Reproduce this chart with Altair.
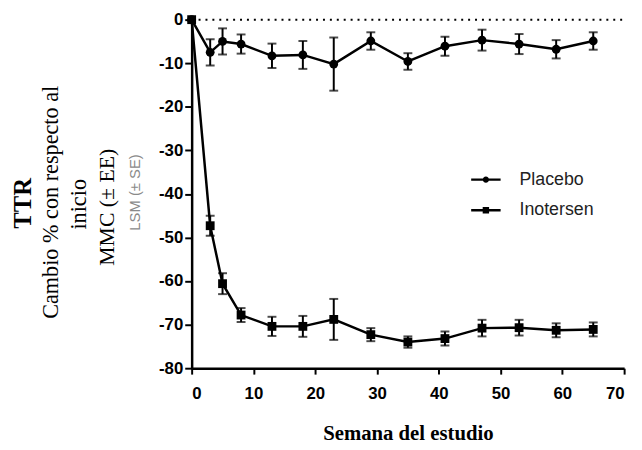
import altair as alt
import pandas as pd

weeks = [0, 3, 5, 8, 13, 18, 23, 29, 35, 41, 47, 53, 59, 65]
placebo_mean = [0, -7.5, -5.0, -5.6, -8.3, -8.1, -10.2, -4.9, -9.6, -6.1, -4.7, -5.6, -6.8, -4.9]
placebo_se = [0, 3.0, 3.0, 2.2, 2.8, 3.2, 6.1, 2.0, 1.9, 2.2, 2.4, 2.3, 2.1, 2.0]
ino_mean = [0, -47.3, -60.6, -67.8, -70.4, -70.4, -68.8, -72.3, -74.0, -73.2, -70.8, -70.7, -71.3, -71.1]
ino_se = [0, 2.3, 2.4, 1.6, 2.2, 2.4, 4.7, 1.5, 1.3, 1.6, 1.9, 1.8, 1.6, 1.6]
series_names = ["Placebo", "Inotersen"]

rows = []
for name, means, ses in [("Placebo", placebo_mean, placebo_se), ("Inotersen", ino_mean, ino_se)]:
    for w, m, s in zip(weeks, means, ses):
        rows.append({"week": w, "value": m, "lo": m - s, "hi": m + s, "series": name})
df = pd.DataFrame(rows)
err_df = df[df["hi"] > df["lo"]]

W, H = 438, 353
xs = alt.Scale(domain=[0, 70], nice=False)
ys = alt.Scale(domain=[-80, 0], nice=False)

x_axis = alt.Axis(
    values=list(range(0, 71, 5)),
    labelExpr="datum.value % 10 === 0 ? toString(datum.value) : ''",
    tickSize={"condition": {"test": "datum.value % 10 === 0", "value": 6}, "value": 3},
    title="Semana del estudio",
    titleFont="Liberation Serif",
    titleFontSize=21,
    titleFontWeight="bold",
    titlePadding=21,
    labelPadding=12,
)
y_axis = alt.Axis(
    values=list(range(-80, 1, 10)),
    labelExpr="toString(datum.value)",
    title=None,
    tickSize=7,
)

base = alt.Chart(df)

zero_line = alt.Chart(alt.Data(values=[{}])).mark_rule(
    color="black", strokeDash=[2, 5], strokeWidth=2
).encode(y=alt.datum(0, scale=ys), x=alt.value(0), x2=alt.value(W))

lines = base.mark_line(color="black", strokeWidth=2.5).encode(
    x=alt.X("week:Q", scale=xs, axis=x_axis),
    y=alt.Y("value:Q", scale=ys, axis=y_axis),
    detail="series:N",
)

err = alt.Chart(err_df).mark_rule(color="black", strokeWidth=2).encode(
    x=alt.X("week:Q", scale=xs), y=alt.Y("lo:Q", scale=ys), y2="hi:Q"
)
cap_lo = alt.Chart(err_df).mark_tick(color="black", orient="horizontal", size=9, thickness=2).encode(
    x=alt.X("week:Q", scale=xs), y=alt.Y("lo:Q", scale=ys)
)
cap_hi = alt.Chart(err_df).mark_tick(color="black", orient="horizontal", size=9, thickness=2).encode(
    x=alt.X("week:Q", scale=xs), y=alt.Y("hi:Q", scale=ys)
)

points = base.mark_point(filled=True, color="black", opacity=1, size=80).encode(
    x=alt.X("week:Q", scale=xs),
    y=alt.Y("value:Q", scale=ys),
    shape=alt.Shape("series:N", scale=alt.Scale(domain=series_names, range=["circle", "square"]), legend=None),
)

bars_path = "M-4.6,-0.38L-0.9,-0.38L-0.9,0.38L-4.6,0.38Z M0.9,-0.38L4.6,-0.38L4.6,0.38L0.9,0.38Z"
circle_path = bars_path + " M-1,0A1,1 0 1,1 1,0A1,1 0 1,1 -1,0Z"
square_path = bars_path + " M-1,-1L1,-1L1,1L-1,1Z"
legend_layer = alt.Chart(pd.DataFrame({"series": series_names})).mark_point(
    filled=True, color="black", opacity=1
).encode(
    shape=alt.Shape(
        "series:N",
        scale=alt.Scale(domain=series_names, range=[circle_path, square_path]),
        legend=alt.Legend(
            title=None,
            orient="none",
            legendX=289,
            legendY=153,
            labelFont="Liberation Sans",
            labelFontSize=18,
            labelColor="#222222",
            symbolSize=42,
            labelOffset=25,
            rowPadding=13,
            symbolFillColor="black",
        ),
    )
).transform_filter("false")

def ytext(text, x, y, font, size, weight="normal", color="black"):
    return alt.Chart(alt.Data(values=[{}])).mark_text(
        text=text, angle=270, align="center", baseline="middle",
        font=font, fontSize=size, fontWeight=weight, color=color,
    ).encode(x=alt.value(x), y=alt.value(y))

titles = [
    ytext("TTR", -171, 186, "Liberation Serif", 25, "bold"),
    ytext("Cambio % con respecto al", -142, 185, "Liberation Serif", 22.5),
    ytext("inicio", -114, 187, "Liberation Serif", 22.5),
    ytext("MMC (± EE)", -86, 190, "Liberation Serif", 22),
    ytext("LSM (± SE)", -57, 175, "Liberation Sans", 15, "normal", "#8a8a8a"),
]

chart = alt.layer(
    zero_line, lines, err, cap_lo, cap_hi, points, legend_layer, *titles
).resolve_scale(shape="independent").properties(
    width=W, height=H,
    autosize=alt.AutoSizeParams(type="none"),
    padding={"left": 186, "top": 9, "right": 10, "bottom": 76},
).configure_view(stroke=None).configure_axis(
    grid=False,
    domainColor="black",
    domainWidth=2.5,
    tickColor="black",
    tickWidth=2,
    labelFont="Liberation Sans",
    labelFontWeight="bold",
    labelFontSize=17,
    labelColor="black",
    labelPadding=2,
)

chart.save("out.html", embed_options={"renderer": "svg", "actions": False})
